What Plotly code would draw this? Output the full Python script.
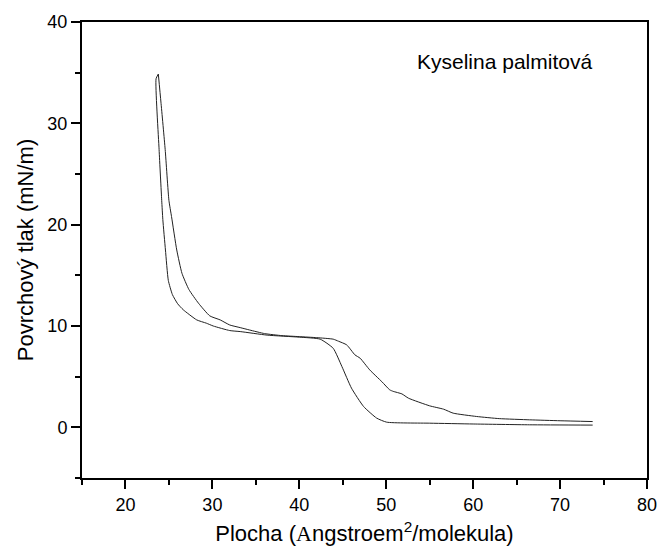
import plotly.graph_objects as go

# Compression branch (outer curve), area in Å^2/molecule, pressure in mN/m
comp_x = [73.75, 70.0, 66.5, 63.0, 60.4, 57.7, 56.6, 55.0, 52.55, 51.8, 50.8, 50.4,
          49.5, 48.1, 47.0, 46.4, 45.45, 44.5, 43.9, 42.0, 40.0, 38.0, 36.0, 34.3,
          33.2, 32.0, 30.9, 29.7, 28.4, 27.3, 26.5, 25.9, 25.3, 25.0, 24.57, 24.08, 23.78]
comp_y = [0.57, 0.65, 0.74, 0.86, 1.07, 1.40, 1.79, 2.12, 2.88, 3.30, 3.55, 3.70,
          4.50, 5.67, 6.82, 7.15, 8.14, 8.50, 8.70, 8.85, 8.95, 9.05, 9.25, 9.60,
          9.84, 10.10, 10.60, 11.00, 12.25, 13.60, 15.20, 17.50, 20.80, 22.40, 27.40, 32.10, 34.86]

# Expansion branch (inner curve)
exp_x = [23.78, 23.52, 23.87, 24.17, 24.30, 24.60, 24.93, 25.40, 26.00, 26.65, 28.20,
         29.30, 30.10, 32.00, 33.20, 36.30, 40.00, 42.40, 43.90, 44.90, 46.00, 47.40,
         48.90, 50.05, 55.00, 60.00, 66.50, 73.75]
exp_y = [34.86, 34.40, 27.40, 22.40, 20.50, 17.50, 14.50, 13.10, 12.20, 11.60, 10.60,
         10.28, 10.00, 9.55, 9.45, 9.10, 8.90, 8.70, 7.80, 6.00, 3.87, 2.05,
         0.91, 0.51, 0.41, 0.33, 0.25, 0.22]

x_ticks = [20, 30, 40, 50, 60, 70, 80]
y_ticks = [0, 10, 20, 30, 40]

FONT = "Liberation Sans, Arial, sans-serif"

fig = go.Figure()
fig.add_trace(go.Scatter(x=comp_x, y=comp_y, mode="lines",
                         line=dict(color="#222222", width=1, shape="spline", smoothing=0.5),
                         showlegend=False))
fig.add_trace(go.Scatter(x=exp_x, y=exp_y, mode="lines",
                         line=dict(color="#222222", width=1, shape="spline", smoothing=0.5),
                         showlegend=False))

axis_common = dict(
    showgrid=False, zeroline=False, showline=True, linecolor="black", linewidth=2,
    mirror=True, ticks="outside", ticklen=9, tickwidth=2, tickcolor="black",
    tickfont=dict(family=FONT, size=18, color="black"), automargin=False,
    minor=dict(ticks="outside", ticklen=5, tickwidth=2, tickcolor="black", dtick=5),
)

fig.update_xaxes(range=[15, 80], tickvals=x_ticks, ticktext=[str(v) for v in x_ticks],
                 title=dict(text="Plocha (<span style='font-family:Liberation Serif'>A</span>ngstroem<sup>2</sup>/molekula)",
                            font=dict(family=FONT, size=22, color="black"), standoff=12),
                 **axis_common)
fig.update_yaxes(range=[-5, 40], tickvals=y_ticks, ticktext=[str(v) for v in y_ticks],
                 title=dict(text="Povrchový tlak (mN/m)",
                            font=dict(family=FONT, size=22, color="black"), standoff=8),
                 **axis_common)

fig.add_annotation(x=0.748, y=0.914, xref="paper", yref="paper", xanchor="center",
                   yanchor="middle", showarrow=False, text="Kyselina palmitová",
                   font=dict(family=FONT, size=21, color="black"))

fig.update_layout(width=659, height=553, plot_bgcolor="white", paper_bgcolor="white",
                  margin=dict(l=82, r=12, t=22, b=75, autoexpand=False))

# remove the default page margin so the figure sits at the window origin
fig.write_html("out.html", config={"displayModeBar": False},
               post_script="document.body.style.margin='0';document.body.style.overflow='hidden';"
                           "document.documentElement.style.overflow='hidden';")
